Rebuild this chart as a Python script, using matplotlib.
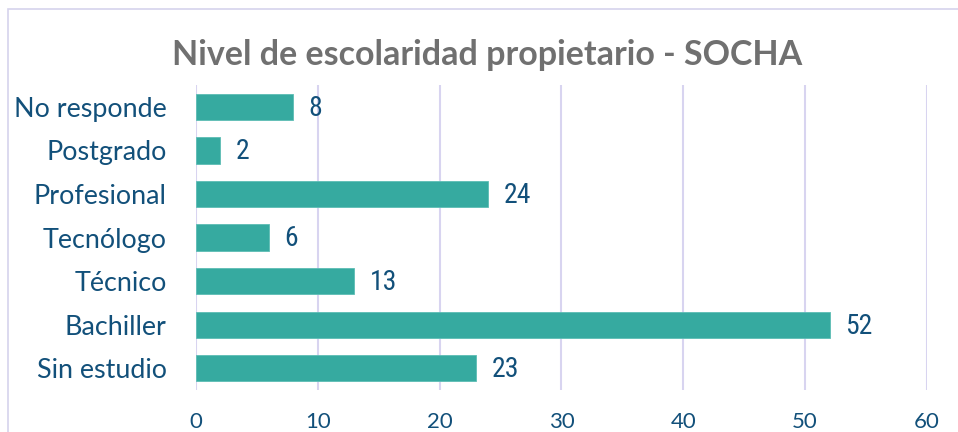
import matplotlib.pyplot as plt
from matplotlib.patches import Rectangle
from matplotlib import font_manager

# Data
categorias = ["Sin estudio", "Bachiller", "Técnico", "Tecnólogo", "Profesional", "Postgrado", "No responde"]
valores = [23, 52, 13, 6, 24, 2, 8]
ticks_x = [0, 10, 20, 30, 40, 50, 60]

bar_color = "#36AAA0"
text_color = "#12507A"
grid_color = "#D8D4F0"

# narrow font for data labels, if one is installed
nombres = {f.name for f in font_manager.fontManager.ttflist}
narrow = "Roboto"
for cand in ["Liberation Sans Narrow", "Roboto Condensed", "DejaVu Sans Condensed", "Open Sans Condensed"]:
    if cand in nombres:
        narrow = cand
        break

fig = plt.figure(figsize=(9.58, 4.32), dpi=100)
ax = fig.add_axes([0.2046, 0.0972, 0.763, 0.7058])

# chart border (left and top visible)
fig.patches.append(Rectangle((8 / 958, -0.1), 1.2, 1.1 - 9 / 432, transform=fig.transFigure,
                             fill=False, edgecolor="#D6D3EC", linewidth=1.2))

pos = range(len(categorias))
ax.barh(pos, valores, height=0.6, color=bar_color, edgecolor="#5DBDB4", linewidth=0.6, zorder=3)

for y, v in zip(pos, valores):
    ax.annotate(str(v), (v, y), xytext=(11, -1), textcoords="offset points",
                va="center", ha="left", fontsize=20, fontweight="normal", color=text_color,
                family=[narrow, "DejaVu Sans"])

ax.set_xlim(0, 60)
ax.set_ylim(-0.5, 6.5)
ax.set_xticks(ticks_x)
ax.set_yticks(list(pos))
ax.set_yticklabels(categorias, fontsize=19.4, color=text_color, family="Lato")
ax.set_xticklabels([str(t) for t in ticks_x], fontsize=16, color=text_color, family="Lato")
ax.tick_params(axis="x", length=0, pad=16)
ax.tick_params(axis="y", length=0, pad=21)
ax.grid(axis="x", color=grid_color, linewidth=1.5, zorder=0)
for s in ax.spines.values():
    s.set_visible(False)

fig.text(0.508, 0.872, "Nivel de escolaridad propietario - SOCHA", ha="center", va="center",
         fontsize=24.5, fontweight="bold", color="#707070", family="Lato")

fig.savefig("out.png", dpi=100)
